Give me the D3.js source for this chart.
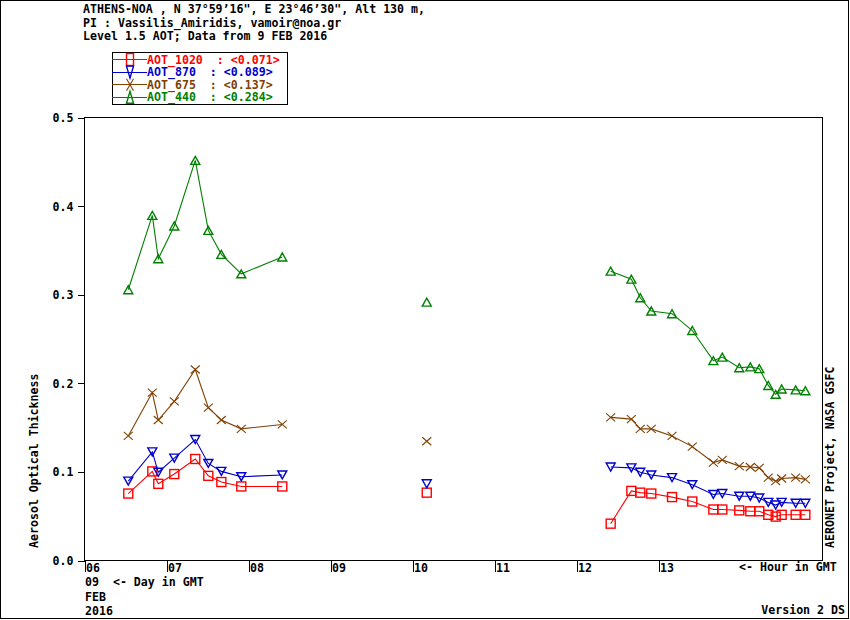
<!DOCTYPE html>
<html>
<head>
<meta charset="utf-8">
<script src="https://cdn.jsdelivr.net/npm/d3@7"></script>
<style>
  body { margin: 0; background: #fff; }
  svg text { font-family: "DejaVu Sans Mono", monospace; font-weight: bold; font-size: 11.6px; white-space: pre; }
</style>
</head>
<body>
<svg id="chart" width="850" height="620"></svg>
<script>
// hours in GMT (day 09 FEB 2016)
const hours = [6.54, 6.833, 6.906, 7.101, 7.357, 7.516, 7.675, 7.918, 8.418,
  10.18,
  12.423, 12.675, 12.784, 12.918, 13.171, 13.418, 13.675, 13.784, 13.991, 14.126,
  14.235, 14.345, 14.435, 14.508, 14.679, 14.797];

const aot1020 = [0.075, 0.100, 0.086, 0.097, 0.114, 0.095, 0.088, 0.083, 0.083,
  0.076,
  0.041, 0.078, 0.076, 0.075, 0.071, 0.066, 0.057, 0.057, 0.056, 0.055,
  0.055, 0.051, 0.049, 0.051, 0.051, 0.051];
const aot870 = [0.089, 0.122, 0.099, 0.115, 0.136, 0.109, 0.100, 0.094, 0.096,
  0.086,
  0.105, 0.104, 0.099, 0.096, 0.093, 0.085, 0.074, 0.075, 0.072, 0.072,
  0.070, 0.065, 0.062, 0.065, 0.064, 0.064];
const aot675 = [0.140, 0.189, 0.158, 0.179, 0.215, 0.172, 0.158, 0.148, 0.153,
  0.134,
  0.161, 0.159, 0.148, 0.148, 0.140, 0.128, 0.110, 0.113, 0.106, 0.105,
  0.104, 0.093, 0.089, 0.092, 0.093, 0.091];
const aot440 = [0.305, 0.389, 0.340, 0.377, 0.451, 0.372, 0.345, 0.323, 0.342,
  0.291,
  0.326, 0.317, 0.296, 0.281, 0.278, 0.259, 0.225, 0.229, 0.217, 0.218,
  0.216, 0.197, 0.187, 0.193, 0.192, 0.191];

const seriesNames = ['AOT_1020', 'AOT_870', 'AOT_675', 'AOT_440'];
const seriesMeans = ['0.071', '0.089', '0.137', '0.284'];
const seriesColors = ['#ff0000', '#0000cc', '#804000', '#008000'];
const seriesShapes = ['square', 'tri_down', 'cross', 'tri_up'];
const seriesValues = [aot1020, aot870, aot675, aot440];

const xTicks = [6, 7, 8, 9, 10, 11, 12, 13];
const yTicks = [0, 0.1, 0.2, 0.3, 0.4, 0.5];

const headerLines = [
  'ATHENS-NOA , N 37°59’16", E 23°46’30", Alt 130 m,',
  'PI : Vassilis_Amiridis, vamoir@noa.gr',
  'Level 1.5 AOT; Data from 9 FEB 2016'
];

let margin = {top: 117, right: 28, bottom: 60, left: 84};
let W = 850, H = 620;

let svg = d3.select('#chart');

svg.append('rect')
  .attr('x', 0.5).attr('y', 0.5)
  .attr('width', W - 2).attr('height', H - 2)
  .attr('fill', 'none').attr('stroke', '#000')
  .attr('shape-rendering', 'crispEdges');

let sx = d3.scaleLinear().domain([6, 15]).range([margin.left, W - margin.right]);
let sy = d3.scaleLinear().domain([0, 0.5]).range([H - margin.bottom, margin.top]);

// frame
svg.append('rect')
  .attr('x', sx(6) + 0.5).attr('y', sy(0.5) + 0.5)
  .attr('width', sx(15) - sx(6)).attr('height', sy(0) - sy(0.5))
  .attr('fill', 'none').attr('stroke', '#000')
  .attr('shape-rendering', 'crispEdges');

// y axis
let yAxis = d3.axisLeft(sy).tickValues(yTicks).tickFormat(d3.format('.1f')).tickSize(7).tickPadding(4);
let gy = svg.append('g')
  .attr('transform', `translate(${sx(6) + 0.5},0.5)`)
  .call(yAxis);
gy.select('.domain').remove();
gy.selectAll('line').attr('shape-rendering', 'crispEdges');
gy.selectAll('text').attr('font-family', null).attr('font-size', null).attr('dy', '0.35em');

// x axis: tick drops down, label to its right
let xAxis = d3.axisBottom(sx).tickValues(xTicks).tickFormat(d => d3.format('02d')(d)).tickSize(11);
let gx = svg.append('g')
  .attr('transform', `translate(0.5,${sy(0) + 0.5})`)
  .call(xAxis);
gx.select('.domain').remove();
gx.selectAll('line').attr('shape-rendering', 'crispEdges');
gx.selectAll('text')
  .attr('font-family', null).attr('font-size', null)
  .attr('text-anchor', 'start')
  .attr('x', 1).attr('y', 0).attr('dy', '11');

svg.append('text').attr('x', 85).attr('y', 586).text('09  <- Day in GMT');
svg.append('text').attr('x', 85).attr('y', 601).text('FEB');
svg.append('text').attr('x', 85).attr('y', 615).text('2016');
svg.append('text').attr('x', 739).attr('y', 571).text('<- Hour in GMT');
svg.append('text').attr('x', 845).attr('y', 614).attr('text-anchor', 'end').text('Version 2 DS');

svg.append('text')
  .attr('transform', 'translate(38,548) rotate(-90)')
  .text('Aerosol Optical Thickness');
svg.append('text')
  .attr('transform', 'translate(834,548) rotate(-90)')
  .text('AERONET Project, NASA GSFC');

svg.selectAll('.hdr').data(headerLines).join('text')
  .attr('class', 'hdr')
  .attr('x', 83).attr('y', (d, i) => 13 + i * 13.7)
  .text(d => d);

function drawMarker(g, shape, color, x, y, w, h) {
  let hw = w / 2, hh = h / 2;
  if (shape === 'square') {
    g.append('rect').attr('x', x - hw).attr('y', y - hh).attr('width', w).attr('height', h)
      .attr('fill', 'none').attr('stroke', color).attr('stroke-width', 1.4);
  } else if (shape === 'tri_down') {
    g.append('path').attr('d', `M${x - hw},${y - hh}L${x + hw},${y - hh}L${x},${y + hh}Z`)
      .attr('fill', 'none').attr('stroke', color).attr('stroke-width', 1.4);
  } else if (shape === 'tri_up') {
    g.append('path').attr('d', `M${x - hw},${y + hh}L${x + hw},${y + hh}L${x},${y - hh}Z`)
      .attr('fill', 'none').attr('stroke', color).attr('stroke-width', 1.4);
  } else {
    g.append('path').attr('d', `M${x - hw},${y - hh}L${x + hw},${y + hh}M${x - hw},${y + hh}L${x + hw},${y - hh}`)
      .attr('fill', 'none').attr('stroke', color).attr('stroke-width', 1.1);
  }
}

// split into runs where gap > 1 hour
function runs(vals) {
  let out = [], cur = [];
  hours.forEach((h, i) => {
    if (cur.length && h - cur[cur.length - 1][0] > 1) { out.push(cur); cur = []; }
    cur.push([h, vals[i]]);
  });
  if (cur.length) out.push(cur);
  return out;
}

let line = d3.line().x(d => sx(d[0])).y(d => sy(d[1]));

seriesValues.forEach((vals, k) => {
  let g = svg.append('g');
  runs(vals).filter(r => r.length > 1).forEach(r => {
    g.append('path').attr('d', line(r))
      .attr('fill', 'none').attr('stroke', seriesColors[k]).attr('stroke-width', 1.1);
  });
  hours.forEach((h, i) => {
    drawMarker(g, seriesShapes[k], seriesColors[k], sx(h), sy(vals[i]), 9, seriesShapes[k] === 'square' ? 9 : 8);
  });
});

// legend
let lg = svg.append('g');
lg.append('rect').attr('x', 112.5).attr('y', 52.5).attr('width', 175).attr('height', 52)
  .attr('fill', '#fff').attr('stroke', '#000').attr('shape-rendering', 'crispEdges');
seriesNames.forEach((name, k) => {
  let y = 59.5 + k * 12.6;
  lg.append('line').attr('x1', 112).attr('x2', 147).attr('y1', y).attr('y2', y)
    .attr('stroke', seriesColors[k]).attr('shape-rendering', 'crispEdges');
  drawMarker(lg, seriesShapes[k], seriesColors[k], 130, y, 7, 12);
  lg.append('text').attr('x', 147).attr('y', y + 4)
    .attr('fill', seriesColors[k])
    .text(name + '  : <' + seriesMeans[k] + '>');
});
</script>
</body>
</html>
